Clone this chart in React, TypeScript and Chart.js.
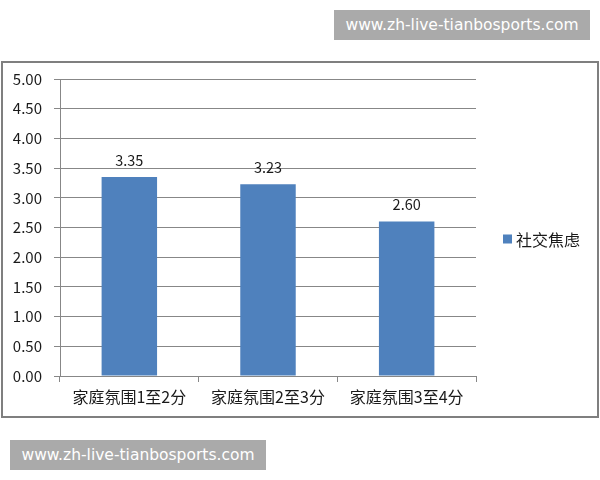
import React, { useEffect, useRef } from "react";
import { Chart, registerables } from "chart.js";

Chart.register(...registerables);

const categories = ["家庭氛围1至2分", "家庭氛围2至3分", "家庭氛围3至4分"];
const seriesName = "社交焦虑";
const seriesValues = [3.35, 3.23, 2.6];
const yTicks = [0, 0.5, 1, 1.5, 2, 2.5, 3, 3.5, 4, 4.5, 5];
const watermark = "www.zh-live-tianbosports.com";

const CJK = '"Noto Sans CJK SC", "Noto Sans", sans-serif';
const BAR_COLOR = "#4F81BD";
const GRID = "#878787";
const TEXT = "#1a1a1a";

const valueLabels = {
  id: "valueLabels",
  afterDatasetsDraw(chart: any) {
    const { ctx } = chart;
    const meta = chart.getDatasetMeta(0);
    const data = chart.data.datasets[0].data as number[];
    ctx.save();
    ctx.font = `14.5px ${CJK}`;
    ctx.fillStyle = TEXT;
    ctx.textAlign = "center";
    ctx.textBaseline = "middle";
    meta.data.forEach((bar: any, i: number) => {
      ctx.fillText(data[i].toFixed(2), bar.x, bar.y - 17);
    });
    ctx.restore();
  },
};

const sideLegend = {
  id: "sideLegend",
  afterDraw(chart: any) {
    const { ctx, chartArea } = chart;
    const ds = chart.data.datasets[0];
    const x = chartArea.right + 27;
    const y = chart.height / 2;
    ctx.save();
    ctx.fillStyle = ds.backgroundColor;
    ctx.fillRect(x, y - 5, 9, 9);
    ctx.font = `16px ${CJK}`;
    ctx.fillStyle = TEXT;
    ctx.textAlign = "left";
    ctx.textBaseline = "middle";
    ctx.fillText(ds.label, x + 13, y);
    ctx.restore();
  },
};

function ChartBox() {
  const ref = useRef<HTMLCanvasElement | null>(null);
  useEffect(() => {
    if (!ref.current) return;
    const chart = new Chart(ref.current, {
      type: "bar",
      data: {
        labels: categories,
        datasets: [
          {
            label: seriesName,
            data: seriesValues,
            backgroundColor: BAR_COLOR,
            borderWidth: 0,
            categoryPercentage: 1,
            barPercentage: 0.4,
          },
        ],
      },
      plugins: [valueLabels, sideLegend],
      options: {
        animation: false,
        responsive: true,
        maintainAspectRatio: false,
        layout: { padding: { top: 16, right: 121, left: 0, bottom: 0 } },
        plugins: {
          legend: { display: false },
          tooltip: { enabled: false },
        },
        scales: {
          x: {
            offset: true,
            grid: {
              display: true,
              offset: true,
              drawOnChartArea: false,
              drawTicks: true,
              tickLength: 6,
              color: GRID,
              lineWidth: 1,
            },
            border: { display: true, color: GRID, width: 1 },
            ticks: {
              color: TEXT,
              font: { family: CJK, size: 16 },
              padding: 5,
              maxRotation: 0,
            },
            afterFit(scale: any) {
              scale.height = 40;
              scale.paddingLeft = 0;
              scale.paddingRight = 0;
            },
          },
          y: {
            min: 0,
            max: 5,
            afterBuildTicks(scale: any) {
              scale.ticks = yTicks.map((v) => ({ value: v }));
            },
            grid: {
              color: GRID,
              lineWidth: 1,
              drawTicks: true,
              tickLength: 6,
            },
            border: { display: true, color: GRID, width: 1 },
            ticks: {
              color: TEXT,
              font: { family: CJK, size: 15 },
              padding: 12,
              callback: (v: any) => Number(v).toFixed(2),
            },
            afterFit(scale: any) {
              scale.width = 57;
              scale.paddingTop = 0;
              scale.paddingBottom = 0;
            },
          },
        },
      },
    });
    return () => chart.destroy();
  }, []);
  return <canvas ref={ref} />;
}

const wmStyle: React.CSSProperties = {
  position: "absolute",
  background: "#aaaaaa",
  color: "#ffffff",
  fontFamily: '"DejaVu Sans", sans-serif',
  fontSize: 15.5,
  lineHeight: "30px",
  height: 30,
  width: 256,
  textAlign: "center",
  whiteSpace: "nowrap",
};

export default function App() {
  return (
    <div style={{ position: "absolute", left: 0, top: 0, width: 600, height: 480, background: "#fff" }}>
      <div style={{ ...wmStyle, left: 334, top: 10 }}>{watermark}</div>
      <div
        style={{
          position: "absolute",
          left: 1,
          top: 61,
          width: 598,
          height: 357,
          boxSizing: "border-box",
          border: "2px solid #7f7f7f",
          background: "#fff",
        }}
      >
        <div style={{ position: "relative", width: 594, height: 353 }}>
          <ChartBox />
        </div>
      </div>
      <div style={{ ...wmStyle, left: 10, top: 440 }}>{watermark}</div>
    </div>
  );
}
